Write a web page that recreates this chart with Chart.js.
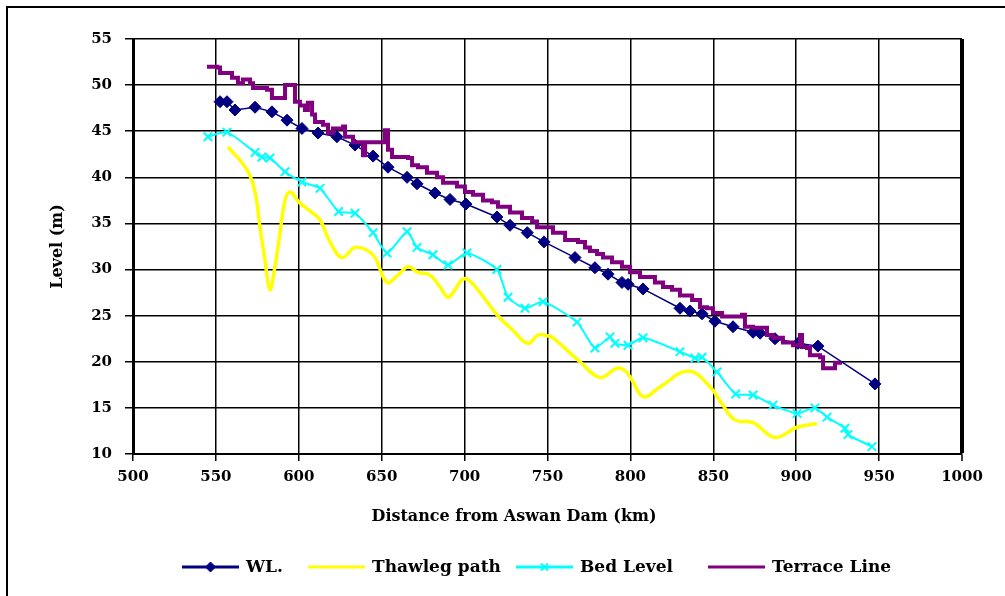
<!DOCTYPE html>
<html>
<head>
<meta charset="utf-8">
<title>Level vs distance from Aswan Dam</title>
<script src="https://cdn.jsdelivr.net/npm/chart.js@4.4.1/dist/chart.umd.min.js"></script>
<style>
  html, body { margin: 0; padding: 0; background: #fff; }
  #wrap { width: 1005px; height: 596px; }
</style>
</head>
<body>
<div id="wrap"><canvas id="levelChart" width="1005" height="596"></canvas></div>
<script>
// axis ranges
const kmRange = [500, 1000, 50];
const levelRange = [10, 55, 5];

// WL.
const wlKm = [552.5, 556.7, 561.5, 573.6, 583.8, 592.9, 601.9, 611.6, 623, 633.9, 644.8, 653.8, 665.3, 671.3, 682.1, 691.2, 700.8, 719.5, 727.4, 737.8, 747.9, 766.6, 778.6, 786.5, 794.9, 798.6, 807.6, 829.9, 835.9, 843.2, 851.0, 861.9, 874.0, 878.2, 887.2, 901.1, 913.1, 947.5];
const wlLevel = [48.2, 48.2, 47.3, 47.6, 47.1, 46.2, 45.3, 44.8, 44.4, 43.5, 42.3, 41.1, 40.0, 39.3, 38.3, 37.6, 37.1, 35.7, 34.8, 34.0, 33.0, 31.3, 30.2, 29.5, 28.6, 28.4, 27.9, 25.8, 25.5, 25.2, 24.4, 23.8, 23.2, 23.1, 22.5, 22.0, 21.7, 17.6];

// Thawleg path
const thKm = [557.3, 568.8, 573.6, 576.6, 579.6, 582.6, 585.6, 588.7, 591.7, 594.7, 600.7, 608.6, 612.8, 618.8, 626, 633.9, 641.1, 646, 653.2, 659.8, 665.9, 671.9, 679.1, 685.2, 690, 694.2, 698.4, 702, 709.3, 719.5, 729.2, 738.2, 744.3, 750.3, 753.3, 769.6, 781.7, 792, 797, 801, 808, 818, 835, 848, 855, 863, 874, 887.2, 900.5, 912.5];
const thLevel = [43.3, 40.8, 38.4, 34.6, 31.0, 27.8, 30.3, 34.0, 37.5, 38.4, 37.2, 36.1, 35.4, 33.0, 31.3, 32.4, 32.1, 31.3, 28.6, 29.4, 30.3, 29.7, 29.4, 28.1, 27.0, 27.8, 28.9, 28.9, 27.5, 25.1, 23.4, 22.0, 22.9, 22.8, 22.6, 20.0, 18.3, 19.3, 19.0, 18.0, 16.2, 17.3, 19.0, 17.3, 15.5, 13.7, 13.4, 11.8, 12.9, 13.3];

// Bed Level
const bedKm = [545.2, 556.7, 573.6, 577.8, 582.6, 591.7, 601.9, 612.8, 624, 633.9, 644.8, 653.2, 665.3, 671.3, 680.9, 690, 701.4, 719.5, 726.2, 736.4, 747.3, 767.8, 778.6, 787.7, 790.7, 798.6, 807.6, 829.9, 839.0, 843.2, 852.2, 863.5, 874.0, 886.0, 900.5, 911.3, 918.6, 929.4, 931.2, 945.7];
const bedLevel = [44.4, 44.9, 42.7, 42.2, 42.1, 40.6, 39.5, 38.8, 36.3, 36.1, 34.0, 31.8, 34.1, 32.4, 31.6, 30.5, 31.8, 30.0, 27.0, 25.8, 26.5, 24.3, 21.5, 22.7, 22.0, 21.8, 22.6, 21.1, 20.4, 20.5, 18.9, 16.5, 16.4, 15.3, 14.4, 15.0, 14.0, 12.8, 12.1, 10.8];

// Terrace Line
const terKm = [544.6, 550.7, 552.5, 556.7, 559.7, 563.3, 566.3, 570.6, 572.4, 580.8, 583.8, 590.5, 591.7, 596.5, 597.7, 600.7, 603.7, 605.5, 608.0, 609.8, 614.6, 617.6, 620.6, 626.7, 627.9, 632.7, 638.1, 638.7, 640, 650.2, 652, 653.8, 656.2, 665.9, 668.3, 671.9, 677.3, 683.4, 687, 695.4, 700.2, 705.1, 711.1, 716.5, 720.1, 727.4, 734.6, 740.7, 743.7, 753.3, 757.5, 760.6, 768.4, 772.6, 775.6, 779.9, 783.5, 788.9, 794.9, 799.8, 805.8, 810.6, 814.8, 819.7, 825.1, 829.9, 837.2, 842.0, 846.2, 849.8, 855.3, 861.9, 867.3, 869.1, 874, 882.4, 886.0, 892.0, 898.1, 902.3, 903.5, 906.5, 908.3, 914.4, 916.2, 920.4, 923.4, 926.4];
const terLevel = [52.0, 51.9, 51.3, 51.3, 50.8, 50.2, 50.6, 50.2, 49.7, 49.5, 48.6, 48.6, 50.0, 50.0, 48.2, 47.8, 47.3, 48.1, 46.8, 46.0, 45.7, 44.8, 45.3, 45.5, 44.4, 43.8, 43.8, 42.4, 43.8, 43.8, 45.1, 43.0, 42.2, 42.1, 41.3, 41.1, 40.5, 40.0, 39.4, 39.0, 38.4, 38.1, 37.5, 37.3, 36.8, 36.2, 35.6, 35.2, 34.6, 34.0, 34.0, 33.2, 33.0, 32.4, 32.0, 31.7, 31.3, 30.8, 30.3, 29.7, 29.2, 29.2, 28.6, 28.1, 27.8, 27.2, 26.7, 25.9, 25.8, 25.3, 24.9, 24.9, 25.1, 23.8, 23.7, 22.9, 22.6, 22.1, 21.8, 22.9, 21.6, 21.5, 20.7, 20.5, 19.3, 19.3, 19.9, 20.0];

const seriesNames = ["WL.", "Thawleg path", "Bed Level", "Terrace Line"];
const xTitle = "Distance from Aswan Dam (km)";
const yTitle = "Level (m)";

const FONT = "'DejaVu Serif', 'Liberation Serif', serif";

function pairs(xs, ys) {
  return xs.map((x, i) => ({ x: x, y: ys[i] }));
}

// outer frame, x title and legend
const extras = {
  id: "extras",
  beforeDraw(chart) {
    const ctx = chart.ctx;
    ctx.save();
    ctx.fillStyle = "#fff";
    ctx.fillRect(0, 0, chart.width, chart.height);
    ctx.strokeStyle = "#000";
    ctx.lineWidth = 2;
    ctx.beginPath();
    ctx.moveTo(7, chart.height);
    ctx.lineTo(7, 7);
    ctx.lineTo(chart.width, 7);
    ctx.stroke();
    ctx.restore();
  },
  afterDraw(chart) {
    const ctx = chart.ctx;
    ctx.save();
    ctx.fillStyle = "#000";
    ctx.font = "bold 16px " + FONT;
    ctx.textAlign = "center";
    ctx.textBaseline = "middle";
    ctx.fillText(xTitle, 514, 517);

    const textX = [246, 372, 580, 772];
    const y = 567;
    ctx.textAlign = "left";
    chart.data.datasets.forEach((ds, i) => {
      const x1 = textX[i] - 64, x2 = textX[i] - 7;
      ctx.strokeStyle = ds.borderColor;
      ctx.lineWidth = 3;
      ctx.beginPath();
      ctx.moveTo(x1, y);
      ctx.lineTo(x2, y);
      ctx.stroke();
      if (ds.pointRadius > 0) {
        ctx.fillStyle = ds.pointBackgroundColor;
        ctx.strokeStyle = ds.pointBorderColor;
        ctx.lineWidth = ds.pointBorderWidth;
        Chart.helpers.drawPoint(ctx, {
          pointStyle: ds.pointStyle, rotation: 0,
          radius: ds.pointRadius - 1, borderWidth: ds.pointBorderWidth
        }, (x1 + x2) / 2, y);
      }
      ctx.fillStyle = "#000";
      ctx.font = "bold 17px " + FONT;
      ctx.fillText(seriesNames[i], textX[i], y + 1);
    });
    ctx.restore();
  }
};

new Chart(document.getElementById("levelChart"), {
  type: "line",
  data: {
    datasets: [
      {
        label: seriesNames[0],
        data: pairs(wlKm, wlLevel),
        borderColor: "#000080",
        borderWidth: 1.5,
        pointStyle: "rectRot",
        pointRadius: 6,
        pointBackgroundColor: "#000080",
        pointBorderColor: "#000080",
        pointBorderWidth: 1,
        tension: 0,
        order: 4
      },
      {
        label: seriesNames[1],
        data: pairs(thKm, thLevel),
        borderColor: "#ffff00",
        borderWidth: 3.5,
        pointRadius: 0,
        tension: 0.4,
        order: 3
      },
      {
        label: seriesNames[2],
        data: pairs(bedKm, bedLevel),
        borderColor: "#00ffff",
        borderWidth: 2,
        pointStyle: "crossRot",
        pointRadius: 6,
        pointBackgroundColor: "#00ffff",
        pointBorderColor: "#00ffff",
        pointBorderWidth: 2,
        tension: 0.2,
        order: 2
      },
      {
        label: seriesNames[3],
        data: pairs(terKm, terLevel),
        borderColor: "#800080",
        borderWidth: 4,
        pointRadius: 0,
        stepped: true,
        order: 1
      }
    ]
  },
  options: {
    responsive: false,
    animation: false,
    layout: { padding: { left: 0, top: 39, right: 43, bottom: 0 } },
    plugins: {
      legend: { display: false },
      tooltip: { enabled: false }
    },
    scales: {
      x: {
        type: "linear",
        min: kmRange[0],
        max: kmRange[1],
        ticks: {
          stepSize: kmRange[2],
          color: "#000",
          padding: 7,
          maxRotation: 0,
          callback: v => String(v),
          font: { family: FONT, size: 15, weight: "bold" }
        },
        grid: {
          color: "#000",
          lineWidth: c => (c.index === 10 ? 4 : 1.5),
          tickWidth: 1.5,
          tickLength: 7
        },
        border: { color: "#000", width: 2 },
        afterFit(scale) { scale.height = 142; }
      },
      y: {
        min: levelRange[0],
        max: levelRange[1],
        ticks: {
          stepSize: levelRange[2],
          color: "#000",
          padding: 13,
          callback: v => String(v),
          font: { family: FONT, size: 15, weight: "bold" }
        },
        grid: {
          color: "#000",
          lineWidth: 1.5,
          tickLength: 8
        },
        border: { color: "#000", width: 3 },
        title: {
          display: true,
          text: yTitle,
          color: "#000",
          padding: { top: 48, bottom: 0 },
          font: { family: FONT, size: 16, weight: "bold" }
        },
        afterFit(scale) { scale.width = 133; }
      }
    }
  },
  plugins: [extras]
});
</script>
</body>
</html>
